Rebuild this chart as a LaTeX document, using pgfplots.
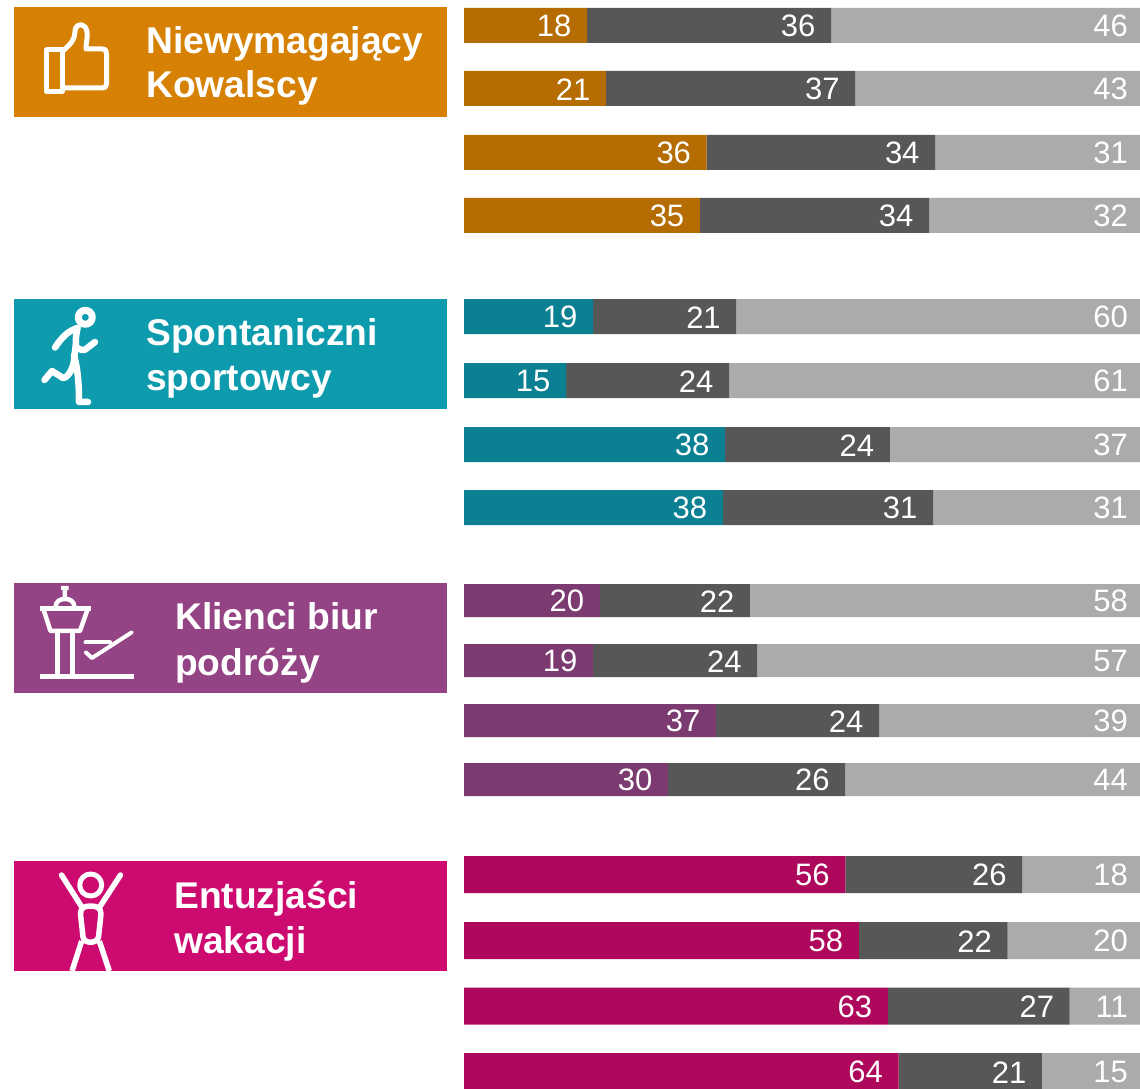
\documentclass[border=0pt]{standalone}
\usepackage{pgfplots}
\usepackage{pgfplotstable}
\usepackage{fontspec}
\setmainfont{Liberation Sans}
\pgfplotsset{compat=1.18}
\definecolor{hA}{HTML}{D68103}\definecolor{bA}{HTML}{B46C03}
\definecolor{hB}{HTML}{0D9BAD}\definecolor{bB}{HTML}{0B8092}
\definecolor{hC}{HTML}{944484}\definecolor{bC}{HTML}{7B3A70}
\definecolor{hD}{HTML}{CC0A6F}\definecolor{bD}{HTML}{AE085C}
\definecolor{dg}{HTML}{575757}\definecolor{lg}{HTML}{ABABAB}
\pgfplotstableread{
y a la b lb c lc
25.5 18.2 18 36.1 36 45.7 46
88.5 21.0 21 36.9 37 42.1 43
152.5 35.9 36 33.8 34 30.3 31
215.5 34.9 35 33.9 34 31.2 32
}\tA
\pgfplotstableread{
y a la b lb c lc
316.5 19.1 19 21.2 21 59.7 60
380.5 15.1 15 24.1 24 60.8 61
444.5 38.6 38 24.4 24 37.0 37
507.5 38.3 38 31.1 31 30.6 31
}\tB
\pgfplotstableread{
y a la b lb c lc
600.5 20.1 20 22.2 22 57.7 58
660.5 19.1 19 24.3 24 56.6 57
720.5 37.3 37 24.1 24 38.6 39
779.5 30.2 30 26.2 26 43.6 44
}\tC
\pgfplotstableread{
y a la b lb c lc
874.5 56.4 56 26.2 26 17.4 18
940.5 58.4 58 22.0 22 19.6 20
1006 62.7 63 26.9 27 10.4 11
1071.5 64.3 64 21.2 21 14.5 15
}\tD
\newcommand{\grp}[3]{%
\begin{axis}[at={(0,0)},anchor=south west,scale only axis,width=1140pt,height=1088pt,
 axis lines=none,xmin=-68.639,xmax=100,ymin=0,ymax=1088,y dir=reverse,
 xbar stacked,bar width=#3pt,point meta=explicit symbolic,
 nodes near coords,nodes near coords align={anchor=east},
 every node near coord/.append style={text=white,inner sep=0pt,yshift=-0.8pt,
   font=\fontsize{31pt}{31pt}\selectfont}]
\addplot[fill=#2,draw=none,visualization depends on={\thisrow{a}\as\va},
  every node near coord/.append style={xshift={\va*3.38-15.5}}] table[x=a,y=y,meta=la]{#1};
\addplot[fill=dg,draw=none,visualization depends on={\thisrow{b}\as\vb},
  every node near coord/.append style={xshift={\vb*3.38-15.5}}] table[x=b,y=y,meta=lb]{#1};
\addplot[fill=lg,draw=none,visualization depends on={\thisrow{c}\as\vc},
  every node near coord/.append style={xshift={\vc*3.38-12}}] table[x=c,y=y,meta=lc]{#1};
\end{axis}}
\newcommand{\hd}[5]{% x, base1, base2, line1, line2
 \node[anchor=base west,inner sep=0pt,text=white,font=\fontsize{37.2pt}{37pt}\selectfont\bfseries] at (#1,#2) {#4};
 \node[anchor=base west,inner sep=0pt,text=white,font=\fontsize{37.2pt}{37pt}\selectfont\bfseries] at (#1,#3) {#5};}
\begin{document}
\begin{tikzpicture}
\useasboundingbox (0,0) rectangle (1140pt,1088pt);
\grp{\tA}{bA}{35}
\grp{\tB}{bB}{35}
\grp{\tC}{bC}{33}
\grp{\tD}{bD}{37}
\begin{scope}[shift={(0,1088pt)},x=1pt,y=-1pt]
\fill[hA] (14,7) rectangle (447,117);
\fill[hB] (14,299) rectangle (447,409);
\fill[hC] (14,583) rectangle (447,693);
\fill[hD] (14,861) rectangle (447,971);
\hd{146}{53.5}{97.5}{Niewymagający}{Kowalscy}
\hd{146}{346}{391}{Spontaniczni}{sportowcy}
\hd{175}{630}{675}{Klienci biur}{podróży}
\hd{174}{908}{953}{Entuzjaści}{wakacji}
% thumb
\begin{scope}[draw=white,line width=5pt,line cap=round,line join=round]
\draw (46.5,50) rectangle (62,91.5);
\draw (64,50) .. controls (70,44) and (74,42) .. (75,32) .. controls (75,25) and (80,24.5) .. (82,25) .. controls (88,27) and (88,33) .. (86,46) -- (86,49) -- (102,49) .. controls (106,49) and (106.5,51) .. (106.5,54) -- (106.5,84) .. controls (106.5,87) and (105,88) .. (102,88) -- (64,88);
% runner
\draw[line width=7pt] (85.3,317.3) circle (7);
\draw[line width=6.5pt] (77.5,328) .. controls (68,331) and (62,337) .. (55,347.5);
\draw[line width=6.5pt] (77.5,328) .. controls (75,340) and (76,345) .. (76,347) .. controls (80,350) and (84,351) .. (86,349) -- (95,342);
\draw[line width=6.5pt] (76,345) .. controls (74,355) and (75,362) .. (72,368) .. controls (70,374) and (66,378) .. (63,378) -- (52,371) -- (44.5,380);
\draw[line width=6.5pt] (74,355) .. controls (78,370) and (79,385) .. (79,402) -- (88,402);
% tower
\draw[line width=5pt,line cap=butt] (40,676) -- (133.5,676);
\draw[line width=5pt,line cap=butt] (40,609) -- (90.5,609);
\draw[line cap=butt] (57.5,631) -- (57.5,676) (72.5,631) -- (72.5,676);
\draw[line width=4.5pt] (44,611) -- (50.5,631) -- (80,631) -- (87,611);
\draw[line width=4.5pt,line cap=butt] (55.5,607) .. controls (56,601) and (60,599) .. (65,599) .. controls (70,599) and (74,601) .. (74.5,607);
\fill[white] (61,586) rectangle (68.5,590) (62.5,590) rectangle (67,598);
\draw[line width=4pt] (85.5,642.5) -- (110,642.5);
\draw[line width=4pt] (131.5,632.5) -- (92,658) -- (86,652.5);
% person
\begin{scope}[line width=5.5pt]
\draw[line width=5pt] (90.7,885) circle (11);
\draw (61.5,875) -- (81.5,906.5) (120.5,875) -- (100,906.5);
\draw (90.7,906) .. controls (84,906) and (80.5,908) .. (80.5,914) -- (83,937) .. controls (84,944) and (97,944) .. (98.5,937) -- (101,914) .. controls (101,908) and (97,906) .. (90.7,906);
\draw[line cap=butt] (81.7,941) -- (72,971) (99.3,941) -- (109.3,971);
\end{scope}
\end{scope}
\end{scope}
\end{tikzpicture}
\end{document}
